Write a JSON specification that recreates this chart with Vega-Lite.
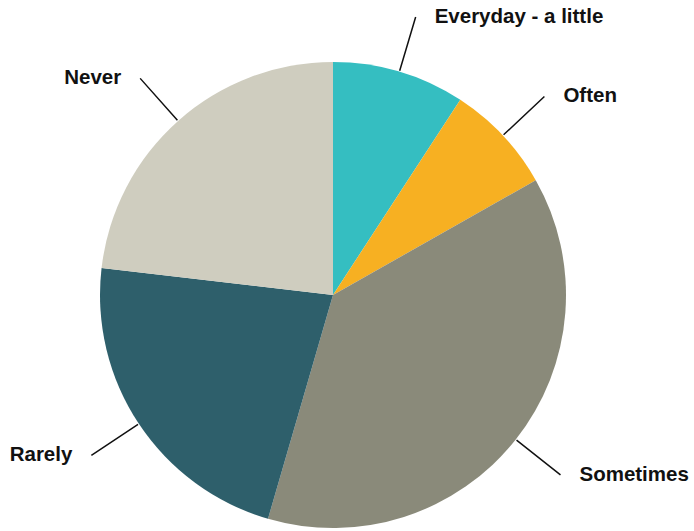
{
  "$schema": "https://vega.github.io/schema/vega-lite/v6.json",
  "autosize": {"type": "none"},
  "padding": {"left": 0, "top": 59, "right": 28, "bottom": 0},
  "width": 666,
  "height": 472,
  "background": "white",
  "view": {"stroke": null},
  "data": {
    "values": [
      {"answer": "Everyday - a little", "share": 9.2, "idx": 1},
      {"answer": "Often", "share": 7.6, "idx": 2},
      {"answer": "Sometimes", "share": 37.7, "idx": 3},
      {"answer": "Rarely", "share": 22.35, "idx": 4},
      {"answer": "Never", "share": 23.15, "idx": 5}
    ]
  },
  "encoding": {
    "theta": {"field": "share", "type": "quantitative", "stack": true},
    "order": {"field": "idx", "type": "quantitative"}
  },
  "layer": [
    {
      "mark": {"type": "arc", "outerRadius": 233},
      "encoding": {
        "color": {
          "field": "answer",
          "type": "nominal",
          "scale": {
            "domain": ["Everyday - a little", "Often", "Sometimes", "Rarely", "Never"],
            "range": ["#35BEC1", "#F7B022", "#8A8A7A", "#2E5F6B", "#CFCDBF"]
          },
          "legend": null
        }
      }
    },
    {
      "mark": {"type": "arc", "innerRadius": 234, "outerRadius": 290, "padAngle": 3, "fillOpacity": 0, "fill": "white", "stroke": "#111111", "strokeWidth": 1.5}
    },
    {
      "mark": {"type": "text", "radius": 290, "align": "left", "dx": 19, "baseline": "middle", "fontSize": 20.5, "fontWeight": "bold", "font": "Liberation Sans", "color": "#111111"},
      "encoding": {
        "text": {"condition": {"test": "datum.answer != 'Rarely' && datum.answer != 'Never'", "field": "answer"}, "value": ""}
      }
    },
    {
      "mark": {"type": "text", "radius": 290, "align": "right", "dx": -19, "baseline": "middle", "fontSize": 20.5, "fontWeight": "bold", "font": "Liberation Sans", "color": "#111111"},
      "encoding": {
        "text": {"condition": {"test": "datum.answer == 'Rarely' || datum.answer == 'Never'", "field": "answer"}, "value": ""}
      }
    }
  ]
}
